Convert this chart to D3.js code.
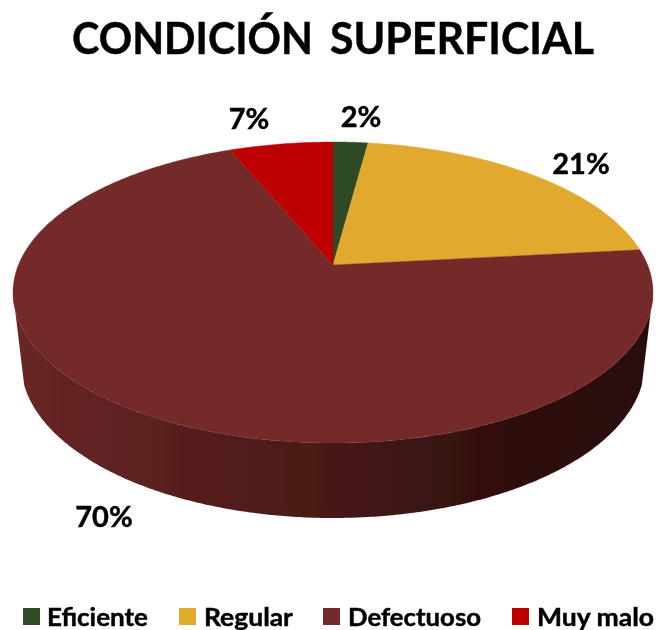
<!DOCTYPE html>
<html>
<head>
<meta charset="utf-8">
<script src="https://cdn.jsdelivr.net/npm/d3@7"></script>
<style>
html,body{margin:0;padding:0;background:#fff}
svg{display:block}
text{font-family:Lato,"Open Sans",sans-serif;font-weight:700;fill:#000;stroke:#000;stroke-width:.45px}
</style>
</head>
<body>
<svg id="c" width="656" height="630"></svg>
<script>
const titleWords = ["CONDICIÓN", "SUPERFICIAL"];
const categories = ["Eficiente", "Regular", "Defectuoso", "Muy malo"];
const values = [2.1, 21.2, 70.45, 6.25];
const percentLabels = ["2%", "21%", "70%", "7%"];
const colors = ["#2f4a25", "#e1aa2d", "#75292a", "#bd0000"];

// layout
const apex = {x: 333, y: 265};
const topY = 142, botY = 443, halfW = 320;
const base = {cy: 363, rx: 312, ry: 155, tangentY: 22};
const titlePos = [[72, 251], [330, 264]];
const labelPos = [[361, 117], [581, 164], [104, 517], [249, 119]];
const legendSwatch = [23, 179, 323, 512];
const legendText = [[47, 101], [204, 89], [348, 133], [537, 117]];

const c = (2 * apex.y - topY - botY) / (botY - topY);           // perspective term
const a = botY * (1 + c) - apex.y;
const d = halfW * Math.sqrt(1 - c * c);
function project(theta) {
  const u = Math.sin(theta), v = -Math.cos(theta), w = 1 + c * v;
  return [apex.x + d * u / w, (a * v + apex.y) / w];
}

const svg = d3.select("#c");
const defs = svg.append("defs");
const grad = defs.append("linearGradient").attr("id", "side")
  .attr("gradientUnits", "userSpaceOnUse")
  .attr("x1", apex.x - halfW).attr("x2", apex.x + halfW).attr("y1", 0).attr("y2", 0);
[[0, "#6a2625"], [0.5, "#471917"], [0.78, "#2e0f0e"], [1, "#2b0e0d"]]
  .forEach(s => grad.append("stop").attr("offset", s[0]).attr("stop-color", s[1]));
defs.append("filter").attr("id", "soft").append("feGaussianBlur").attr("stdDeviation", 0.6);
defs.append("filter").attr("id", "softText").append("feGaussianBlur").attr("stdDeviation", 0.45);

const line = d3.line();
const pie = d3.pie().sort(null)(values);

const samples = d3.range(0, 2 * Math.PI, 0.002);
const rightA = d3.greatest(samples, t => project(t)[0]);
const leftA = d3.least(samples, t => project(t)[0]);

const g = svg.append("g").attr("filter", "url(#soft)");

// side wall: lower half of top rim, then the narrower base rim back
const rim = d3.range(rightA, leftA, 0.01).concat([leftA]).map(project);
const phi0 = Math.asin(base.tangentY / base.ry);
const baseRim = d3.range(Math.PI - phi0, phi0, -0.01).concat([phi0])
  .map(p => [apex.x + base.rx * Math.cos(p), base.cy + base.ry * Math.sin(p)]);
g.append("path").attr("d", line(rim.concat(baseRim)) + "Z").attr("fill", "url(#side)");

// top slices
g.selectAll("path.slice").data(pie).join("path").attr("class", "slice")
  .attr("fill", (s, i) => colors[i])
  .attr("stroke", (s, i) => colors[i]).attr("stroke-width", 0.4)
  .attr("d", s => {
    const n = Math.max(2, Math.ceil((s.endAngle - s.startAngle) / 0.01));
    const pts = d3.range(n + 1).map(i => project(s.startAngle + (s.endAngle - s.startAngle) * i / n));
    return line([[apex.x, apex.y], ...pts]) + "Z";
  });

const t = svg.append("g").attr("filter", "url(#softText)");

// title: one text element, each word fitted to its measured span
const title = t.append("text").attr("y", 54).attr("font-size", 43);
titleWords.forEach((w, i) => {
  title.append("tspan").attr("x", titlePos[i][0])
    .attr("textLength", titlePos[i][1]).attr("lengthAdjust", "spacingAndGlyphs")
    .text(i < titleWords.length - 1 ? w + " " : w);
});

// percent labels
t.selectAll("text.pct").data(percentLabels).join("text").attr("class", "pct")
  .attr("x", (s, i) => labelPos[i][0]).attr("y", (s, i) => labelPos[i][1] + 10)
  .attr("text-anchor", "middle").attr("font-size", 29).text(s => s);

// legend
svg.selectAll("rect.sw").data(categories).join("rect").attr("class", "sw")
  .attr("x", (s, i) => legendSwatch[i]).attr("y", 608).attr("width", 17).attr("height", 17)
  .attr("fill", (s, i) => colors[i]);
t.selectAll("text.lg").data(categories).join("text").attr("class", "lg")
  .attr("x", (s, i) => legendText[i][0]).attr("y", 626).attr("font-size", 25)
  .attr("textLength", (s, i) => legendText[i][1]).attr("lengthAdjust", "spacingAndGlyphs").text(s => s);
</script>
</body>
</html>
